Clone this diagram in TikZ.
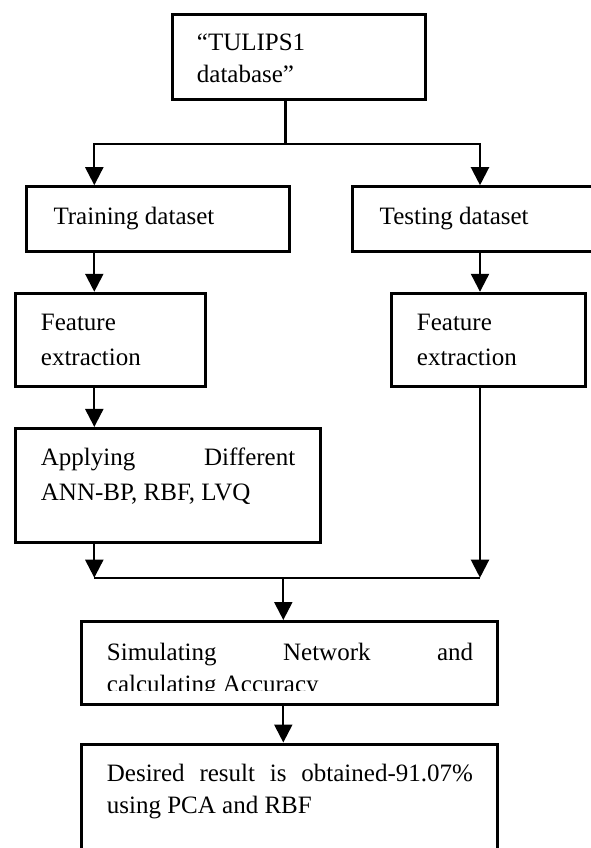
\documentclass[tikz,border=0pt]{standalone}
\usepackage{fontspec}
\setmainfont{Liberation Serif}
\usetikzlibrary{arrows.meta}
% stacked lines of text whose baseline is that of the first line
\newcommand\flowlines[3]{\vtop{\baselineskip=#1pt\hbox{#2}\hbox{#3}}}
\begin{document}
\begin{tikzpicture}[x=1pt,y=-1pt,
  box/.style={draw, rectangle, line width=3pt, inner sep=0pt},
  txt/.style={anchor=base west, inner sep=0pt, font=\fontsize{25}{32}\selectfont},
  conn/.style={line width=2.2pt},
  arr/.style={conn, -{Triangle[length=18pt,width=18pt]}}]
\useasboundingbox (0,0) rectangle (591,848);
\clip (0,0) rectangle (591,848);

% boxes
\node[box, minimum width=252.7pt, minimum height=85.3pt]  (top)    at (298.7,56.7) {};
\node[box, minimum width=263.3pt, minimum height=65pt]    (train)  at (158.3,219.2) {};
\node[box, minimum width=247.6pt, minimum height=65pt]    (test)   at (476.2,219.2) {};
\node[box, minimum width=190.3pt, minimum height=93.4pt]  (feat1)  at (110.8,340) {};
\node[box, minimum width=194.3pt, minimum height=93.4pt]  (feat2)  at (488.8,340) {};
\node[box, minimum width=305.2pt, minimum height=114.5pt] (apply)  at (167.9,485.7) {};
\node[box, minimum width=416.8pt, minimum height=83pt]    (sim)    at (289.4,663) {};
\node[box, minimum width=416.8pt, minimum height=136pt]   (result) at (289.4,812) {};

% texts
\node[txt] (ttop)   at (196.7,50.7) {\flowlines{32}{“TULIPS1}{database”}};
\node[txt] (ttrain) at (53.3,224)   {Training dataset};
\node[txt] (ttest)  at (379.5,224)  {Testing dataset};
\node[txt] (tfeat1) at (40.7,330.7) {\flowlines{34.3}{Feature}{extraction}};
\node[txt] (tfeat2) at (416.7,330.7){\flowlines{34.3}{Feature}{extraction}};
\node[txt] (tapply) at (40.7,465)   {\flowlines{35}{\hbox to 254.3pt{Applying\hfill Different}}{ANN-BP, RBF, LVQ}};
\begin{scope}
  \clip (82,623) rectangle (497,690.5);
  \node[txt] (tsim) at (106.7,660) {\flowlines{32}{\hbox to 366.3pt{Simulating\hfill Network\hfill and}}{calculating Accuracy}};
\end{scope}
\node[txt] (tres) at (106.7,781.7) {\flowlines{31.6}{\hbox to 366pt{Desired\hfill result\hfill is\hfill obtained-91.07\%}}{using PCA and RBF}};

% junction points
\coordinate (split)  at (285.5,144);
\coordinate (splitL) at (94.3,144);
\coordinate (splitR) at (480,144);
\coordinate (mergeL) at (94.3,577.7);
\coordinate (mergeR) at (480,577.7);
\coordinate (mergeC) at (283.3,577.7);

% connectors
\draw[conn] (top.south -| split) -- (split);
\draw[arr] (split) -- (splitL) -- (train.north -| splitL);
\draw[arr] (split) -- (splitR) -- (test.north -| splitR);
\draw[arr] (train.south -| splitL) -- (feat1.north -| splitL);
\draw[arr] (test.south -| splitR) -- (feat2.north -| splitR);
\draw[arr] (feat1.south -| splitL) -- (apply.north -| splitL);
\draw[arr] (apply.south -| mergeL) -- (mergeL);
\draw[arr] (feat2.south -| mergeR) -- (mergeR);
\draw[conn] (mergeL) -- (mergeR);
\draw[arr] (mergeC) -- (sim.north -| mergeC);
\draw[arr] (sim.south -| mergeC) -- (result.north -| mergeC);
\end{tikzpicture}
\end{document}
